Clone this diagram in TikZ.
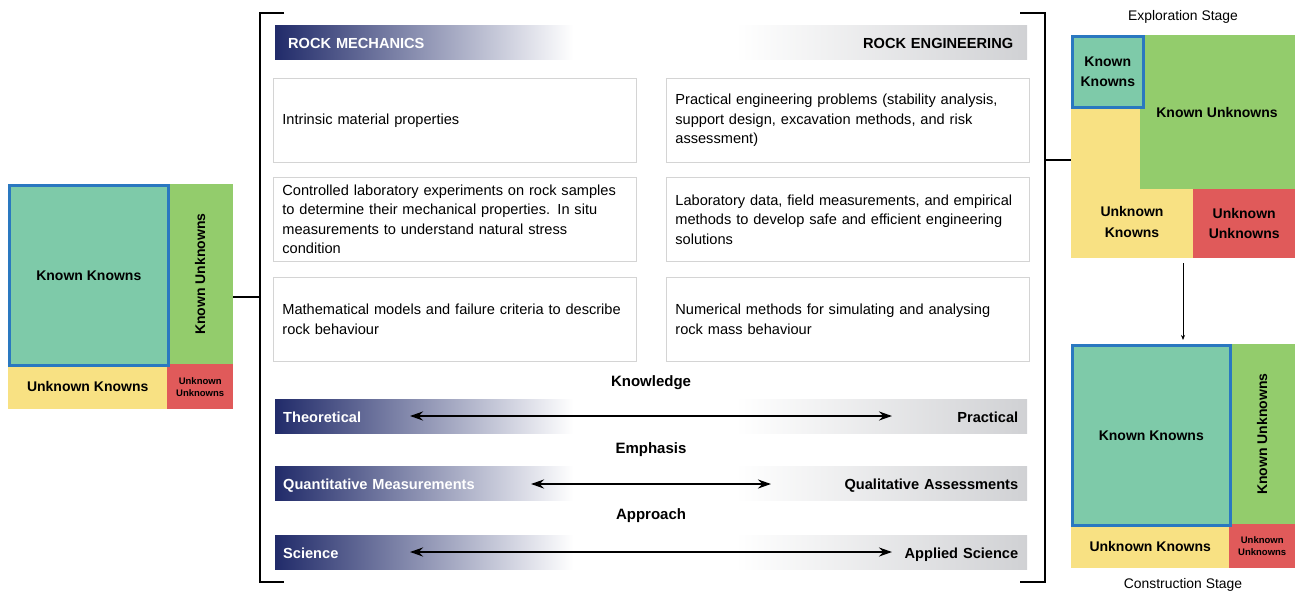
\documentclass[tikz,border=0pt]{standalone}
\usepackage{fontspec}
\setmainfont{Liberation Sans}
\usetikzlibrary{arrows.meta}
\definecolor{navy}{HTML}{212B6A}
\definecolor{kkfill}{HTML}{7ECAA9}
\definecolor{kufill}{HTML}{93CC6C}
\definecolor{ukfill}{HTML}{F8E183}
\definecolor{uufill}{HTML}{E05A5A}
\definecolor{kkline}{HTML}{2A78C0}
\definecolor{boxline}{HTML}{D4D4D4}
\definecolor{bargrey}{HTML}{D0D1D4}
\tikzset{
  cell/.style={anchor=north west, inner sep=0pt, font=\bfseries\fontsize{14}{16}\selectfont, align=center},
  smallcell/.style={cell, font=\bfseries\fontsize{9.5}{12}\selectfont},
  kkcell/.style={cell, fill=kkfill, draw=kkline, line width=2.6pt},
  infobox/.style={anchor=north west, draw=boxline, line width=0.8pt, fill=white,
    text width=345pt, inner xsep=9pt, minimum height=84pt, align=left,
    font=\fontsize{14.6}{19.5}\selectfont},
  leftbar/.style={anchor=north west, left color=navy, right color=white, minimum width=298pt,
    minimum height=34pt, text width=274pt, inner xsep=12pt, inner ysep=0pt,
    text height=13pt, text depth=1pt, align=left, text=white,
    font=\bfseries\fontsize{14.6}{16}\selectfont},
  rightbar/.style={anchor=north west, left color=white, right color=bargrey, minimum width=292pt,
    minimum height=34pt, text width=280pt, inner xsep=6pt, inner ysep=0pt,
    text height=13pt, text depth=1pt, align=right, text=black,
    font=\bfseries\fontsize{14.6}{16}\selectfont},
  heading/.style={font=\bfseries\fontsize{15}{17}\selectfont},
  stage/.style={font=\fontsize{13.9}{16}\selectfont},
  spread/.style={line width=2.4pt, {Stealth[length=13pt,width=9pt]}-{Stealth[length=13pt,width=9pt]}},
  bracket/.style={line width=1.5pt},
}
\begin{document}
\begin{tikzpicture}[x=1pt,y=-1pt]
\useasboundingbox (0,0) rectangle (1298,594);

% ---------- left knowledge matrix ----------
\node[cell, fill=kufill, minimum width=66pt, minimum height=180pt] (lku) at (167,184) {};
\node[rotate=90, font=\bfseries\fontsize{14}{16}\selectfont] at (lku.center) {Known Unknowns};
\node[cell, fill=ukfill, minimum width=159pt, minimum height=45pt] (luk) at (8,364) {Unknown Knowns};
\node[smallcell, fill=uufill, minimum width=66pt, minimum height=45pt] (luu) at (167,364) {Unknown\\Unknowns};
\node[kkcell, minimum width=159pt, minimum height=180pt] (lkk) at (8,184) {Known Knowns};

% ---------- bracket ----------
\coordinate (bl1) at (284,13);
\coordinate (bl2) at (260,13);
\coordinate (bl3) at (260,582);
\coordinate (bl4) at (284,582);
\coordinate (blm) at (260,297);
\coordinate (br1) at (1020,13);
\coordinate (br2) at (1045,13);
\coordinate (br3) at (1045,582);
\coordinate (br4) at (1020,582);
\coordinate (brm) at (1045,160);
\draw[bracket] (bl1) -- (bl2) -- (bl3) -- (bl4);
\draw[bracket] (br1) -- (br2) -- (br3) -- (br4);
\draw[bracket] (lku.east |- blm) -- (blm);

% ---------- headers ----------
\node[leftbar, inner xsep=13pt, text width=272pt] (rm) at (275,25) {ROCK MECHANICS};
\node[rightbar, inner xsep=14pt, text width=264pt] (re) at (735,25) {ROCK ENGINEERING};

% ---------- comparison boxes ----------
\node[infobox] (m1) at (273,78) {Intrinsic material properties};
\node[infobox] (e1) at (666,78) {Practical engineering problems (stability analysis,\\support design, excavation methods, and risk\\assessment)};
\node[infobox] (m2) at (273,177) {Controlled laboratory experiments on rock samples\\to determine their mechanical properties. In situ\\measurements to understand natural stress\\condition};
\node[infobox] (e2) at (666,177) {Laboratory data, field measurements, and empirical\\methods to develop safe and efficient engineering\\solutions};
\node[infobox] (m3) at (273,277) {Mathematical models and failure criteria to describe\\rock behaviour};
\node[infobox] (e3) at (666,277) {Numerical methods for simulating and analysing\\rock mass behaviour};

% ---------- spectra ----------
\node[heading] (kn) at (651,383) {Knowledge};
\node[leftbar, inner xsep=8pt, text width=282pt] (th) at (275,399) {Theoretical};
\node[rightbar, inner xsep=9pt, text width=274pt] (pr) at (735,399) {Practical};
\coordinate (a1l) at (410,416);
\coordinate (a1r) at (892,416);
\draw[spread] (a1l) -- (a1r);

\node[heading] (em) at (651,450) {Emphasis};
\node[leftbar, inner xsep=8pt, text width=282pt] (qn) at (275,466) {Quantitative Measurements};
\node[rightbar, inner xsep=9pt, text width=274pt] (ql) at (735,466) {Qualitative Assessments};
\coordinate (a2l) at (531,484);
\coordinate (a2r) at (771,484);
\draw[spread] (a2l) -- (a2r);

\node[heading] (ap) at (651,516) {Approach};
\node[leftbar, inner xsep=8pt, text width=282pt] (sc) at (275,535) {Science};
\node[rightbar, inner xsep=9pt, text width=274pt] (as) at (735,535) {Applied Science};
\coordinate (a3l) at (410,552);
\coordinate (a3r) at (892,552);
\draw[spread] (a3l) -- (a3r);

% ---------- exploration stage matrix ----------
\node[stage] (es) at (1183,17) {Exploration Stage};
\fill[ukfill] (1071,35) rectangle (1193,258);
\node[cell, fill=kufill, minimum width=155pt, minimum height=154pt] (eku) at (1140,35) {};
\node[font=\bfseries\fontsize{14}{16}\selectfont] at (1217,112) {Known Unknowns};
\node[cell, fill=uufill, minimum width=102pt, minimum height=69pt, font=\bfseries\fontsize{14}{20.5}\selectfont] (euu) at (1193,189) {Unknown\\Unknowns};
\node[font=\bfseries\fontsize{14}{20.5}\selectfont, align=center] (euk) at (1132,222) {Unknown\\Knowns};
\node[kkcell, minimum width=71pt, minimum height=71pt, font=\bfseries\fontsize{14}{20.5}\selectfont] (ekk) at (1071,35) {Known\\Knowns};
\coordinate (ewest) at (1071,160);
\draw[bracket] (brm) -- (ewest);

% ---------- construction stage matrix ----------
\node[cell, fill=kufill, minimum width=66pt, minimum height=180pt] (cku) at (1229,344) {};
\node[rotate=90, font=\bfseries\fontsize{14}{16}\selectfont] at (cku.center) {Known Unknowns};
\node[cell, fill=ukfill, minimum width=158pt, minimum height=44pt] (cuk) at (1071,524) {Unknown Knowns};
\node[smallcell, fill=uufill, minimum width=66pt, minimum height=44pt] (cuu) at (1229,524) {Unknown\\Unknowns};
\node[kkcell, minimum width=158pt, minimum height=180pt] (ckk) at (1071,344) {Known Knowns};
\node[stage] (cs) at (1183,585) {Construction Stage};

\coordinate (dtop) at (1183,263);
\coordinate (dbot) at (1183,340);
\draw[line width=0.8pt, -{Stealth[length=5pt,width=4pt]}] (dtop) -- (dbot);
\end{tikzpicture}
\end{document}
